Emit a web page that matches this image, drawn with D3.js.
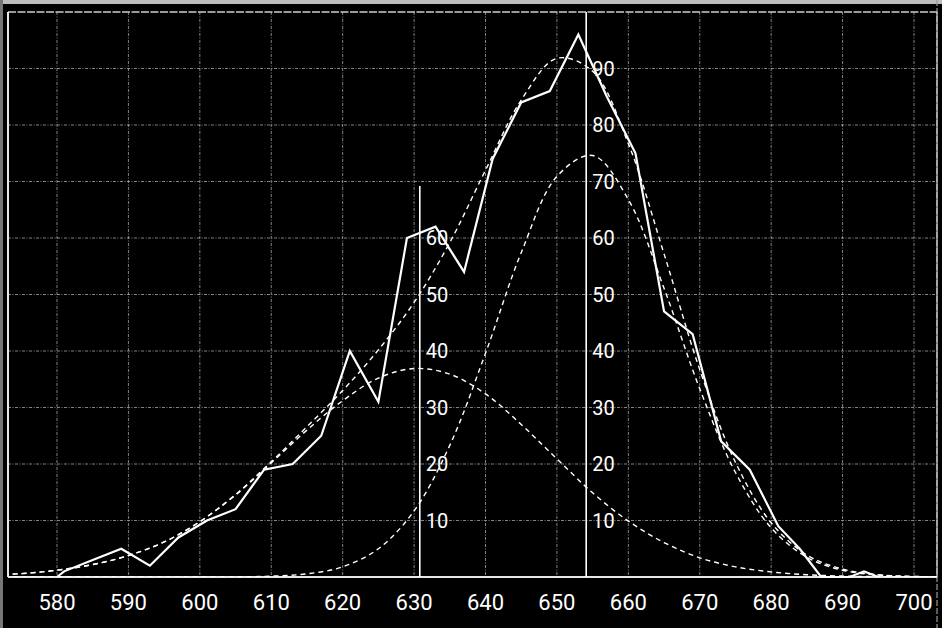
<!DOCTYPE html>
<html><head><meta charset="utf-8">
<script src="https://cdn.jsdelivr.net/npm/d3@7"></script>
<style>html,body{margin:0;padding:0;background:#000;}svg{display:block}</style>
</head><body><svg id="c" width="942" height="628"></svg>
<script>
// ---- data ----
const xTicks = [580,590,600,610,620,630,640,650,660,670,680,690,700];
const yGrid = [10,20,30,40,50,60,70,80,90];
const leftScaleLabels = [10,20,30,40,50,60];
const rightScaleLabels = [10,20,30,40,50,60,70,80,90];

// observed frequency polygon
const obsX    = [580,581,585,589,593,597,601,605,609,613,617,621,625,629,633,637,641,645,649,653,657,661,665,669,673,677,681,684,687,691,693,695];
const obsFreq = [0,  1,  3,  5,  2,  7,  10, 12, 19, 20, 25, 40, 31, 60, 62, 54, 74, 84, 86, 96, 85, 75, 47, 43, 24, 19, 9,  5,  0,  0,  1,  0];

// fitted curves (dashed), read every 5 units
const curveX = [570,575,580,585,590,595,600,605,610,615,620,625,630,635,640,645,650,655,660,665,670,675,680,685,690,695,700,705];
const comp1  = [0.3,0.6,1.2,2.2,3.8,6.2,9.8,14.5,20.2,26.0,31.2,35.2,36.9,35.9,32.4,27.0,20.9,14.9,9.9,6.1,3.4,1.8,0.9,0.4,0.17,0.06,0.02,0.01];
const comp2  = [0,0,0,0,0,0,0.01,0.03,0.15,0.56,1.8,5.0,11.7,23.3,39.6,57.4,70.9,74.6,66.8,51.1,33.3,18.5,8.7,3.5,1.2,0.35,0.09,0.02];
const total  = [0.3,0.6,1.2,2.2,3.8,6.2,9.8,14.6,20.4,26.6,33.0,40.2,48.6,59.2,72.0,84.4,91.8,89.5,76.7,57.2,36.7,20.3,9.6,3.9,1.4,0.4,0.1,0.02];

// the two vertical scale lines (component means)
const meanX   = [630.8, 654.1];
const meanTop = [69.2, 100];

// ---- drawing ----
const svg = d3.select("#c");
const x = d3.scaleLinear().domain([580,700]).range([57,914]);
const y = d3.scaleLinear().domain([0,100]).range([577,12]);
const X0 = x.invert(8), X1 = x.invert(937);

svg.append("rect").attr("width",942).attr("height",628).attr("fill","#000");
// outer scan edges
svg.append("rect").attr("x",0).attr("y",0).attr("width",942).attr("height",4).attr("fill","#bdbdbd");
svg.append("rect").attr("x",0).attr("y",0).attr("width",3).attr("height",628).attr("fill","#777");
svg.append("line").attr("x1",937).attr("x2",937).attr("y1",0).attr("y2",628)
   .attr("stroke","#999").attr("stroke-width",1.2).attr("stroke-dasharray","6,2");

svg.append("clipPath").attr("id","pc").append("rect")
   .attr("x",x(X0)).attr("y",y(100)).attr("width",x(X1)-x(X0)).attr("height",y(0)-y(100));

const gridStyle = s => s.attr("stroke","#bbb").attr("stroke-width",1)
   .attr("stroke-dasharray","3,1.5,1,1.5").attr("opacity",0.7);

// vertical grid
svg.append("g").selectAll("line").data(xTicks).join("line")
   .attr("x1",d=>x(d)).attr("x2",d=>x(d)).attr("y1",y(100)).attr("y2",y(0)).call(gridStyle);
// horizontal grid
svg.append("g").selectAll("line").data(yGrid).join("line")
   .attr("x1",x(X0)).attr("x2",x(X1)).attr("y1",d=>y(d)).attr("y2",d=>y(d)).call(gridStyle);

// frame
svg.append("line").attr("x1",x(X0)).attr("x2",x(X1)).attr("y1",y(100)).attr("y2",y(100))
   .attr("stroke","#ccc").attr("stroke-width",1.3).attr("stroke-dasharray","8,1.5");
svg.append("line").attr("x1",x(X1)).attr("x2",x(X1)).attr("y1",y(100)).attr("y2",y(0))
   .attr("stroke","#ccc").attr("stroke-width",1.3);
svg.append("line").attr("x1",x(X0)).attr("x2",x(X0)).attr("y1",y(100)).attr("y2",y(0))
   .attr("stroke","#fff").attr("stroke-width",1.8);
svg.append("line").attr("x1",x(X0)).attr("x2",x(X1)).attr("y1",y(0)).attr("y2",y(0))
   .attr("stroke","#e6e6e6").attr("stroke-width",1.8);

// mean lines
svg.append("g").selectAll("line").data(meanX).join("line")
   .attr("x1",d=>x(d)).attr("x2",d=>x(d)).attr("y1",y(0)).attr("y2",(d,i)=>y(meanTop[i]))
   .attr("stroke","#fff").attr("stroke-width",1.6);

// scale labels beside mean lines
const lblFont = "Roboto, 'Liberation Sans', sans-serif";
const addScale = (mx, vals) => svg.append("g").selectAll("text").data(vals).join("text")
   .attr("x", x(mx)+6).attr("y", d=>y(d)+7.2)
   .attr("fill","#fff").attr("font-family",lblFont).attr("font-weight",400)
   .attr("font-size","20px").text(d=>d);
addScale(meanX[0], leftScaleLabels);
addScale(meanX[1], rightScaleLabels);

// x axis labels
svg.append("g").selectAll("text").data(xTicks).join("text")
   .attr("x",d=>x(d)).attr("y",610).attr("text-anchor","middle")
   .attr("fill","#fff").attr("font-family",lblFont).attr("font-weight",400)
   .attr("font-size","22px").text(d=>d);

// dashed fitted curves
const cg = svg.append("g").attr("clip-path","url(#pc)");
const curveLine = arr => d3.line().x((d,i)=>x(curveX[i])).y(d=>y(d)).curve(d3.curveCatmullRom.alpha(0.5))(arr);
[comp1, comp2, total].forEach(arr => {
  cg.append("path").attr("d", curveLine(arr)).attr("fill","none")
    .attr("stroke","#fff").attr("stroke-width",1.4).attr("stroke-dasharray","5,4");
});

// observed polygon
const obsLine = d3.line().x((d,i)=>x(obsX[i])).y(d=>y(d));
svg.append("path").attr("d", obsLine(obsFreq)).attr("fill","none")
   .attr("stroke","#fff").attr("stroke-width",2.2).attr("stroke-linejoin","miter");
</script></body></html>
